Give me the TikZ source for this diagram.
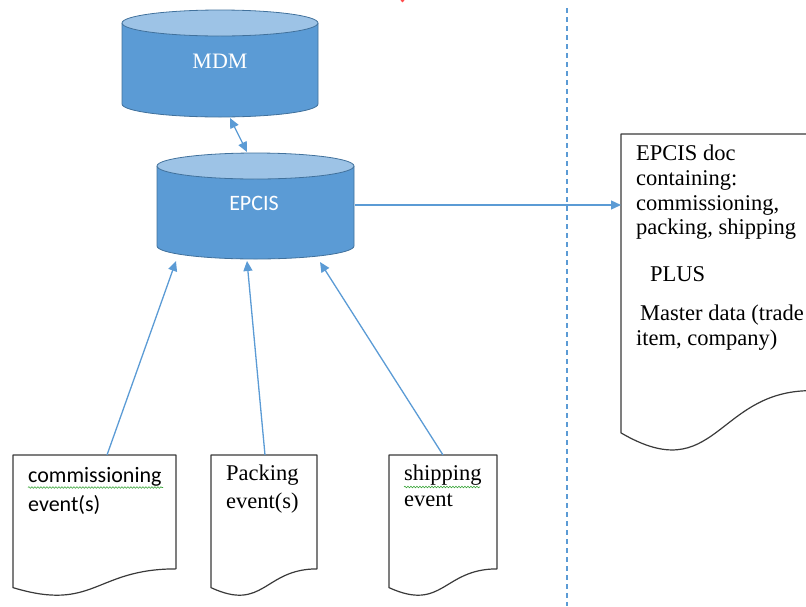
\documentclass[tikz,border=0pt]{standalone}
\usepackage{fontspec}
\setmainfont{Liberation Serif}
\newfontfamily\calibri{Carlito}
\usetikzlibrary{arrows.meta,decorations.pathmorphing}
\definecolor{dbbody}{HTML}{5B9BD5}
\definecolor{dbtop}{HTML}{9DC3E6}
\definecolor{dbedge}{HTML}{41719C}
\definecolor{flow}{HTML}{5B9BD5}
\definecolor{paperedge}{HTML}{3A3A3A}
\definecolor{squiggle}{HTML}{3AA53A}

% database cylinder: centre x, top-ellipse y, bottom-ellipse y, x radius, y radius
\newcommand\database[5]{%
  \fill[dbbody] (#1-#4,#2) -- (#1-#4,#3)
    arc[start angle=180,end angle=0,x radius=#4,y radius=#5] -- (#1+#4,#2) -- cycle;
  \draw[dbedge, line width=0.8pt] (#1-#4,#2) -- (#1-#4,#3)
    arc[start angle=180,end angle=0,x radius=#4,y radius=#5] -- (#1+#4,#2);
  \draw[dbedge, line width=0.8pt, fill=dbtop] (#1,#2) ellipse[x radius=#4, y radius=#5];
}

% paper document with a wavy lower edge: left x, top y, width, height
\newcommand\docsheet[4]{%
  \draw[paper] (#1,#2) -- (#1+#3,#2) -- (#1+#3,#2+0.802*#4)
    .. controls (#1+0.5*#3,#2+0.802*#4) and (#1+0.5*#3,#2+1.1075*#4) .. (#1,#2+0.934*#4) -- cycle;
}

\begin{document}
\begin{tikzpicture}[x=1pt,y=-1pt,
  txt/.style={inner sep=0pt, anchor=base west, font=\fontsize{22.5}{26}\selectfont},
  sanstxt/.style={inner sep=0pt, anchor=base west, font=\calibri\fontsize{22}{26}\selectfont},
  dblabel/.style={inner sep=0pt, text=white},
  flowline/.style={draw=flow, line width=1.3pt},
  flowarrow/.style={flowline, -{Triangle[length=10pt,width=9pt]}},
  paper/.style={draw=paperedge, line width=1.2pt, fill=white, line join=round},
  spell/.style={draw=squiggle, line width=0.6pt, decorate,
    decoration={snake, amplitude=0.8pt, segment length=3pt}},
]
\useasboundingbox (0,0) rectangle (806,606);
\clip (0,0) rectangle (806,606);

% column divider
\coordinate (divider-top) at (567,8);
\coordinate (divider-bottom) at (567,606);
\draw[flow, line width=1.2pt, dash pattern=on 5pt off 4pt] (divider-top) -- (divider-bottom);

% stray red mark at the top edge
\fill[red!70] (402.5,0.5) circle[radius=1.8];

% databases
\database{220}{23}{104}{98}{13}
\node[dblabel, font=\fontsize{22}{26}\selectfont] (mdm) at (220,61) {MDM};
\database{255.5}{166}{246}{98.5}{13}
\node[dblabel, font=\calibri\fontsize{22}{26}\selectfont] (epcis) at (254,203) {EPCIS};

% event documents
\docsheet{13}{455}{163}{142}
\node[sanstxt] (doc1-l1) at (28,482.5) {commissioning};
\node[sanstxt] (doc1-l2) at (28,511.5) {event(s)};
\draw[spell] (28,487.5) -- (163,487.5);

\docsheet{211}{455}{106}{142}
\node[txt] (doc2-l1) at (226,480.5) {Packing};
\node[txt] (doc2-l2) at (226,508) {event(s)};

\docsheet{389}{455}{108}{142}
\node[txt] (doc3-l1) at (404,480) {shipping};
\node[txt] (doc3-l2) at (404,506.5) {event};
\draw[spell] (404,487) -- (480,487);

% exported document, its right edge runs past the page
\docsheet{621}{134}{190}{320}
\node[txt] (out-l1) at (636,160) {EPCIS doc};
\node[txt] (out-l2) at (636,185) {containing:};
\node[txt] (out-l3) at (636,210) {commissioning,};
\node[txt] (out-l4) at (636,234.5) {packing, shipping};
\node[txt] (out-l5) at (650,281.5) {PLUS};
\node[txt] (out-l6) at (640,320) {Master data (trade};
\node[txt] (out-l7) at (636,345) {item, company)};

% connector end points
\coordinate (mdm-port) at (230,118);
\coordinate (epcis-top) at (247,152);
\coordinate (epcis-in1) at (176,261);
\coordinate (epcis-in2) at (247,261);
\coordinate (epcis-in3) at (320,262);
\coordinate (epcis-out) at (355,205);
\coordinate (out-in) at (621,205);
\coordinate (doc1-top) at (107,455);
\coordinate (doc2-top) at (265,455);
\coordinate (doc3-top) at (443,455);

% connectors
\draw[flowline, {Triangle[length=10pt,width=9pt]}-{Triangle[length=10pt,width=9pt]}] (mdm-port) -- (epcis-top);
\draw[flowarrow] (doc1-top) -- (epcis-in1);
\draw[flowarrow] (doc2-top) -- (epcis-in2);
\draw[flowarrow] (doc3-top) -- (epcis-in3);
\draw[flowarrow] (epcis-out) -- (out-in);
\end{tikzpicture}
\end{document}
